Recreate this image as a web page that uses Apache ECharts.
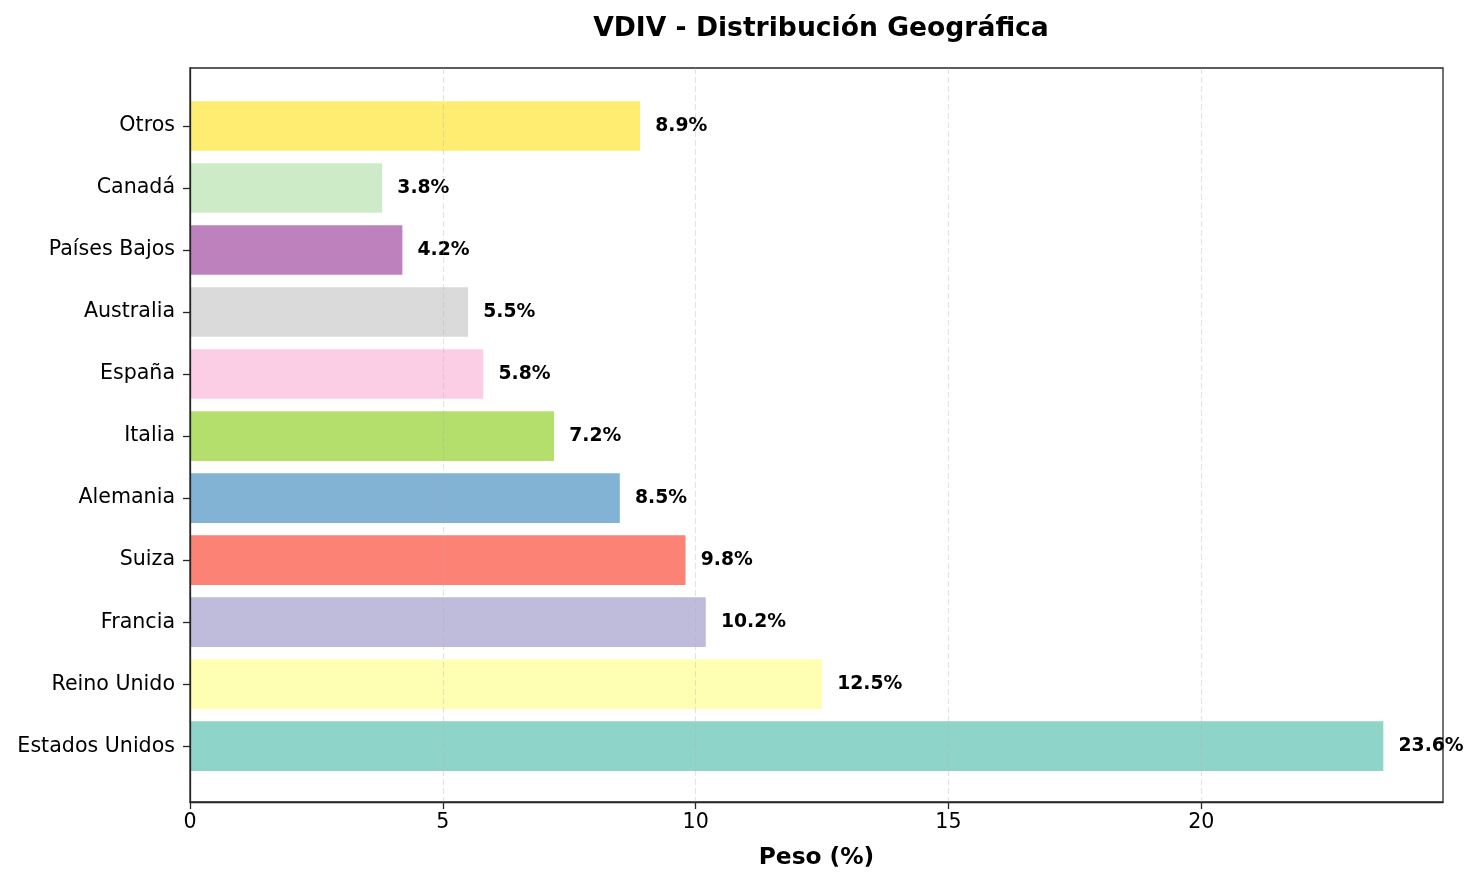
<!DOCTYPE html>
<html style="height: 100%">
   <head>
       <meta charset="utf-8">
       <script src="https://cdn.jsdelivr.net/npm/echarts@6/dist/echarts.min.js"></script>
       <title>VDIV - Distribución Geográfica</title>
   </head>
   <body style="height: 100%; margin: 0; background: #fff">
       <div id="container" style="width: 1478px; height: 886px"></div>
       <script type="text/javascript">

// bottom to top, as matplotlib draws barh
let countries = ['Estados Unidos', 'Reino Unido', 'Francia', 'Suiza', 'Alemania', 'Italia',
                 'España', 'Australia', 'Países Bajos', 'Canadá', 'Otros']
let weights = [23.6, 12.5, 10.2, 9.8, 8.5, 7.2, 5.8, 5.5, 4.2, 3.8, 8.9]
let barColors = ['#8dd3c7', '#ffffb3', '#bebada', '#fb8072', '#80b1d3', '#b3de69',
                 '#fccde5', '#d9d9d9', '#bc80bd', '#ccebc5', '#ffed6f']
let xTicks = [0, 5, 10, 15, 20]

let font = 'DejaVu Sans, sans-serif'
let xMax = Math.max(...weights) * 1.05
let positions = countries.map((c, i) => i)

let chart = echarts.init(document.getElementById('container'))

chart.setOption({
    animation: false,
    backgroundColor: '#fff',
    title: {
        text: 'VDIV - Distribución Geográfica',
        left: 816, top: 11, textAlign: 'center',
        textStyle: {fontFamily: font, fontSize: 26.6, fontWeight: 'bold', color: '#000'}
    },
    grid: {
        left: 190, right: 35, top: 68, bottom: 84,
        show: true, borderColor: '#262626', borderWidth: 1.3
    },
    xAxis: {
        type: 'value', min: 0, max: xMax, interval: 5, z: 5,
        name: 'Peso (%)', nameLocation: 'middle', nameGap: 44,
        nameTextStyle: {fontFamily: font, fontSize: 23.3, fontWeight: 'bold', color: '#000'},
        axisLine: {show: true, onZero: false, lineStyle: {color: '#262626', width: 1.3}},
        axisTick: {show: true, length: 7, customValues: xTicks, lineStyle: {color: '#262626', width: 1.3}},
        axisLabel: {customValues: xTicks, margin: 10, fontFamily: font, fontSize: 20.6, color: '#000'},
        splitLine: {show: true, lineStyle: {color: '#b0b0b0', type: [6, 3], width: 1.1, opacity: 0.35}}
    },
    yAxis: {
        type: 'value', min: -0.9, max: 10.935, z: 6,
        axisLine: {show: true, onZero: false, lineStyle: {color: '#262626', width: 1.3}},
        axisTick: {show: true, length: 7, customValues: positions, lineStyle: {color: '#262626', width: 1.3}},
        axisLabel: {customValues: positions, margin: 15, fontFamily: font, fontSize: 20.6, color: '#000',
                    formatter: v => countries[Math.round(v)]},
        splitLine: {show: false}
    },
    series: [{
        type: 'custom',
        clip: false,
        data: weights.map((w, i) => [w, i]),
        encode: {x: 0, y: 1},
        renderItem: function (params, api) {
            let i = api.value(1)
            let w = api.value(0)
            let p0 = api.coord([0, i + 0.4])
            let p1 = api.coord([w, i - 0.4])
            let lp = api.coord([w + 0.3, i])
            return {
                type: 'group',
                children: [{
                    type: 'rect',
                    shape: {x: p0[0], y: p0[1], width: p1[0] - p0[0], height: p1[1] - p0[1]},
                    style: {fill: barColors[i], opacity: 0.98}
                }, {
                    type: 'text',
                    z2: 10,
                    style: {
                        x: lp[0], y: lp[1], text: w.toFixed(1) + '%',
                        textAlign: 'left', textVerticalAlign: 'middle',
                        fontFamily: 'DejaVu Sans', fontSize: 18.8, fontWeight: 'bold', fill: '#000'
                    }
                }]
            }
        }
    }]
})

       </script>
   </body>
</html>
